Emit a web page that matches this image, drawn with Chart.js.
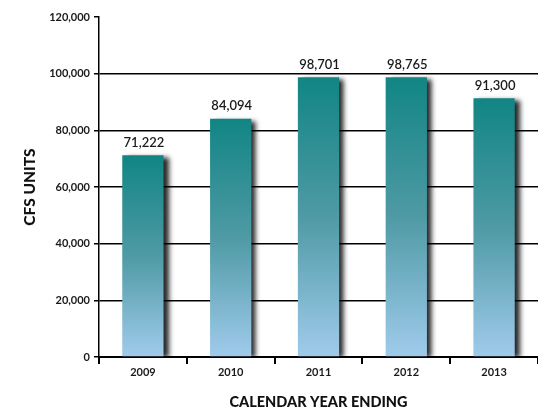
<!DOCTYPE html>
<html>
<head>
<meta charset="utf-8">
<script src="https://cdn.jsdelivr.net/npm/chart.js@4"></script>
<style>
  html, body { margin: 0; padding: 0; background: #fff; }
  #wrap { width: 538px; height: 411px; }
</style>
</head>
<body>
<div id="wrap"><canvas id="barChart" width="538" height="411"></canvas></div>
<script>
// Yearly totals
const years = ['2009', '2010', '2011', '2012', '2013'];
const cfsUnits = [71222, 84094, 98701, 98765, 91300];
const yTicks = [0, 20000, 40000, 60000, 80000, 100000, 120000];

const fmt = v => v.toLocaleString('en-US');

// Each bar gets its own gradient, teal at the top fading to light blue at the base
function barGradient(context) {
  const chart = context.chart;
  const y = chart.scales.y;
  if (!y || context.raw == null) return '#4d9aa6';
  const top = y.getPixelForValue(context.raw);
  const bottom = y.getPixelForValue(0);
  if (!isFinite(top) || !isFinite(bottom) || top === bottom) return '#4d9aa6';
  const g = chart.ctx.createLinearGradient(0, top, 0, bottom);
  g.addColorStop(0, '#118584');
  g.addColorStop(0.5, '#4f9aa5');
  g.addColorStop(1, '#a0cbec');
  return g;
}

// Drop shadow behind the bars
const barShadow = {
  id: 'barShadow',
  beforeDatasetsDraw(chart) {
    const ctx = chart.ctx;
    ctx.save();
    ctx.shadowColor = 'rgba(0,0,0,0.85)';
    ctx.shadowOffsetX = 5;
    ctx.shadowOffsetY = 2;
    ctx.shadowBlur = 5;
  },
  afterDatasetsDraw(chart) {
    chart.ctx.restore();
  }
};

// Value printed above each bar
const valueLabels = {
  id: 'valueLabels',
  afterDatasetsDraw(chart) {
    const ctx = chart.ctx;
    const meta = chart.getDatasetMeta(0);
    ctx.save();
    ctx.font = '600 13px Lato';
    ctx.fillStyle = '#1a1a1a';
    ctx.textAlign = 'center';
    ctx.textBaseline = 'bottom';
    meta.data.forEach((bar, i) => {
      ctx.fillText(fmt(cfsUnits[i]), bar.x + 1, bar.y - 6);
    });
    ctx.restore();
  }
};

const config = {
  type: 'bar',
  data: {
    labels: years,
    datasets: [{
      data: cfsUnits,
      backgroundColor: barGradient,
      borderWidth: 0,
      categoryPercentage: 1,
      barPercentage: 0.47
    }]
  },
  options: {
    responsive: false,
    animation: false,
    layout: { padding: { top: 17, right: 0, left: 0, bottom: 0 } },
    plugins: {
      legend: { display: false },
      tooltip: { enabled: false }
    },
    scales: {
      x: {
        grid: {
          offset: true,
          drawOnChartArea: false,
          drawTicks: true,
          tickLength: 7,
          color: '#000',
          lineWidth: 2
        },
        border: { display: true, color: '#000', width: 2 },
        ticks: {
          color: '#1a1a1a',
          font: { family: 'Lato', size: 11, weight: 'bold' },
          padding: 2
        },
        title: {
          display: true,
          text: 'CALENDAR YEAR ENDING',
          color: '#111',
          font: { family: 'Lato', size: 14.5, weight: 900 },
          padding: { top: 6, bottom: 0 }
        },
        afterFit(scale) { scale.height = 54; }
      },
      y: {
        min: 0,
        max: 120000,
        afterBuildTicks(scale) {
          scale.ticks = yTicks.map(v => ({ value: v }));
        },
        grid: {
          color: ctx => (ctx.tick && ctx.tick.value === 120000) ? 'rgba(0,0,0,0)' : '#000',
          tickColor: '#000',
          lineWidth: 1.5,
          tickLength: 5
        },
        border: { display: true, color: '#000', width: 1.5 },
        ticks: {
          color: '#1a1a1a',
          font: { family: 'Lato', size: 11, weight: 'bold' },
          padding: 4,
          callback: v => fmt(v)
        },
        title: {
          display: true,
          text: 'CFS UNITS',
          color: '#111',
          font: { family: 'Lato', size: 15.5, weight: 900 },
          padding: { top: 21, bottom: 0 }
        },
        afterFit(scale) { scale.width = 99; }
      }
    }
  },
  plugins: [barShadow, valueLabels]
};

const ctx = document.getElementById('barChart').getContext('2d');
const barChart = new Chart(ctx, config);
</script>
</body>
</html>
